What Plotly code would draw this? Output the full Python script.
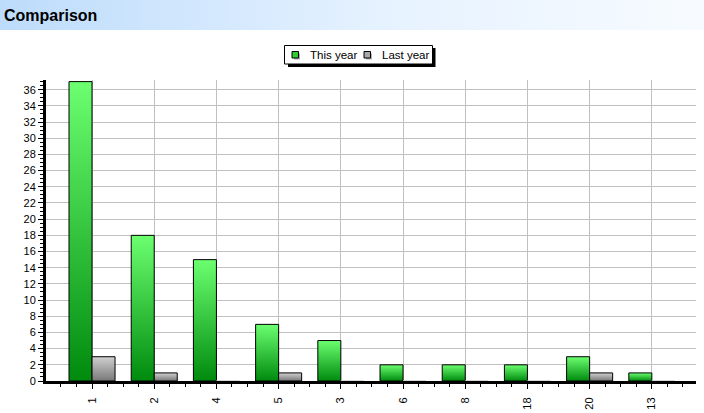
import base64
import plotly.graph_objects as go

# ---- data ----
categories = ["1", "2", "4", "5", "3", "6", "8", "18", "20", "13"]
this_year = [37, 18, 15, 7, 5, 2, 2, 2, 3, 1]
last_year = [3, 1, 0, 1, 0, 0, 0, 0, 1, 0]
series_names = ["This year", "Last year"]
y_ticks = list(range(0, 37, 2))

W, H = 704, 413
L, R, T, B = 46, 8, 80, 32
PW, PH = W - L - R, H - T - B


def px(x):
    return (x - L) / PW


def py(y):
    return (H - B - y) / PH


FONT = "Liberation Sans, Arial, sans-serif"
idx = list(range(len(categories)))

fig = go.Figure()
fig.add_trace(go.Bar(x=idx, y=this_year, name=series_names[0],
                     marker=dict(color="#33cc33", line=dict(color="black", width=1))))
fig.add_trace(go.Bar(x=idx, y=last_year, name=series_names[1],
                     marker=dict(color="#a8a8a8",
                                 line=dict(color=["black" if v else "#c8c8c8" for v in last_year], width=1))))

# title bar gradient image
svg = ("<svg xmlns='http://www.w3.org/2000/svg' width='704' height='30' preserveAspectRatio='none'>"
       "<defs><linearGradient id='t' x1='0' y1='0' x2='1' y2='0'>"
       "<stop offset='0' stop-color='#bddcfb'/><stop offset='0.55' stop-color='#e6f2ff'/>"
       "<stop offset='1' stop-color='#f7fbff'/></linearGradient></defs>"
       "<rect width='704' height='30' fill='url(#t)'/></svg>")
src = "data:image/svg+xml;base64," + base64.b64encode(svg.encode()).decode()

shapes = []
annotations = []
# legend box with shadow
shapes.append(dict(type="rect", xref="paper", yref="paper", x0=px(288), x1=px(435.5), y0=py(67), y1=py(48),
                   fillcolor="black", line=dict(width=0), layer="above"))
shapes.append(dict(type="rect", xref="paper", yref="paper", x0=px(284.5), x1=px(432.5), y0=py(64), y1=py(45.5),
                   fillcolor="white", line=dict(color="black", width=1), layer="above"))
legend_items = [(292, "#33cc33", 308), (364, "#a8a8a8", 380)]
for (sx, col, tx), name in zip(legend_items, series_names):
    shapes.append(dict(type="rect", xref="paper", yref="paper", x0=px(sx + 2), x1=px(sx + 8), y0=py(59.5), y1=py(53.5),
                       fillcolor="#b0b0b0", line=dict(width=0), layer="above"))
    shapes.append(dict(type="rect", xref="paper", yref="paper", x0=px(sx), x1=px(sx + 6.5), y0=py(58), y1=py(51.5),
                       fillcolor=col, line=dict(color="black", width=1), layer="above"))
    annotations.append(dict(xref="paper", yref="paper", x=px(tx), y=py(55), xanchor="left", yanchor="middle",
                            text=name, showarrow=False, font=dict(family=FONT, size=11.5, color="black")))

annotations.append(dict(xref="paper", yref="paper", x=px(2), y=py(16), xanchor="left", yanchor="middle",
                        text="<b>Comparison</b>", showarrow=False,
                        font=dict(family=FONT, size=16, color="black")))

fig.update_layout(
    width=W, height=H,
    margin=dict(l=L, r=R, t=T, b=B, pad=0, autoexpand=False),
    paper_bgcolor="white", plot_bgcolor="white",
    barmode="group", bargap=0.26, bargroupgap=0,
    showlegend=False,
    font=dict(family=FONT, size=11, color="black"),
    shapes=shapes,
    annotations=annotations,
    images=[dict(source=src, xref="paper", yref="paper", x=px(0), y=py(0), sizex=W / PW, sizey=30 / PH,
                 xanchor="left", yanchor="top", sizing="stretch", layer="below")],
)
fig.update_xaxes(
    automargin=False,
    range=[-0.74, 9.71], tickmode="array", tickvals=idx, ticktext=categories, tickangle=-90,
    ticks="outside", ticklen=5, tickcolor="black", tickwidth=1, ticklabelstandoff=4,
    showgrid=True, gridcolor="#c0c0c0", gridwidth=1, zeroline=False,
    showline=True, linecolor="black", linewidth=3,
    minor=dict(tick0=0, dtick=0.25, ticks="outside", ticklen=3, tickcolor="black", showgrid=False),
    tickfont=dict(family=FONT, size=11, color="black"),
)
fig.update_yaxes(
    automargin=False,
    range=[0, 37.2], tickmode="array", tickvals=y_ticks,
    ticks="outside", ticklen=5, tickcolor="black", tickwidth=1,
    showgrid=True, gridcolor="#c0c0c0", gridwidth=1, zeroline=False,
    showline=True, linecolor="black", linewidth=3,
    minor=dict(tick0=0, dtick=0.5, ticks="outside", ticklen=3, tickcolor="black", showgrid=False),
    tickfont=dict(family=FONT, size=11, color="black"),
)

post = """
document.body.style.margin = '0';
document.body.style.overflow = 'hidden';
var gd = document.getElementById('{plot_id}');
function addGrad(){
  var svg = gd.querySelector('svg.main-svg');
  if(!svg) return;
  var ns = 'http://www.w3.org/2000/svg';
  var defs = svg.querySelector('defs');
  if(!document.getElementById('gGreen')){
    [['gGreen','#6cff70','#008a0e'],['gGray','#d0d0d0','#787878']].forEach(function(c){
      var g = document.createElementNS(ns,'linearGradient');
      g.setAttribute('id', c[0]);
      g.setAttribute('x1','0'); g.setAttribute('y1','0'); g.setAttribute('x2','0'); g.setAttribute('y2','1');
      var s1 = document.createElementNS(ns,'stop'); s1.setAttribute('offset','0'); s1.setAttribute('stop-color', c[1]);
      var s2 = document.createElementNS(ns,'stop'); s2.setAttribute('offset','1'); s2.setAttribute('stop-color', c[2]);
      g.appendChild(s1); g.appendChild(s2); defs.appendChild(g);
    });
  }
  var traces = gd.querySelectorAll('.barlayer .trace');
  traces.forEach(function(t, i){
    t.querySelectorAll('path').forEach(function(p){
      p.style.fill = 'url(#' + (i === 0 ? 'gGreen' : 'gGray') + ')';
    });
  });
}
addGrad();
gd.on('plotly_afterplot', addGrad);
"""

fig.write_html("out.html", post_script=post, config={"displayModeBar": False})
